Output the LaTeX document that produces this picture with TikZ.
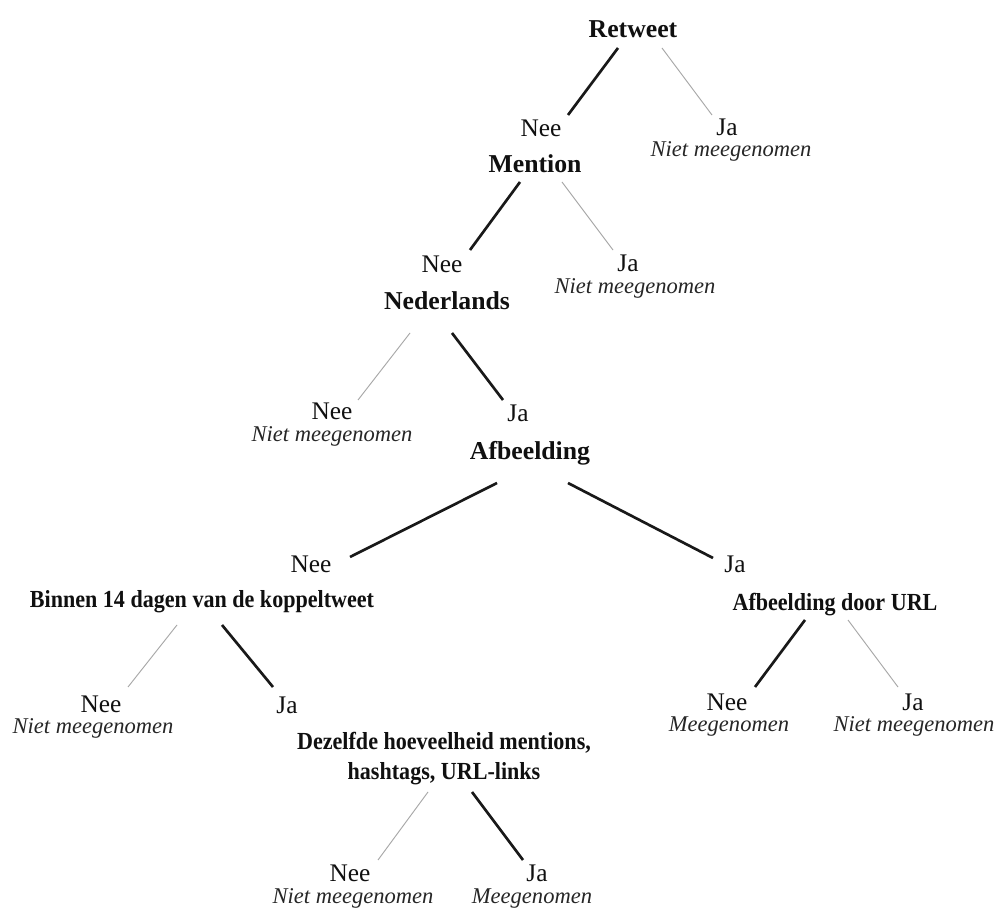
\documentclass[tikz,border=0pt]{standalone}
\usepackage{fontspec}
\setmainfont{Liberation Serif}
\newfontfamily\condfont[FakeStretch=0.9]{Liberation Serif}
\usetikzlibrary{calc}
\definecolor{thingray}{HTML}{A8A8A8}
\definecolor{txt}{HTML}{101010}
\definecolor{itxt}{HTML}{262626}
\tikzset{
  lbl/.style={anchor=base, inner sep=0pt, text=txt, font=\fontsize{19pt}{23pt}\selectfont},
  qtop/.style={anchor=base, inner sep=0pt, text=txt, font=\fontsize{19.3pt}{23pt}\selectfont\bfseries},
  qlow/.style={anchor=base, inner sep=0pt, text=txt, font=\fontsize{18.4pt}{22.5pt}\condfont\bfseries},
  note/.style={anchor=base, inner sep=0pt, text=itxt, font=\fontsize{16.9pt}{20pt}\selectfont\itshape},
  boldline/.style={line width=2pt, color=black!90},
  thinline/.style={line width=0.7pt, color=thingray}
}
\begin{document}
\begin{tikzpicture}[x=0.75pt,y=-0.75pt]
\useasboundingbox (0,0) rectangle (1001,909);
\fill[white] (0,0) rectangle (1001,909);

% level 0
\node[qtop] (r) at (633,38) {Retweet};
\node[lbl] (n1) at (541,137) {Nee};
\node[lbl] (j1) at (727,136) {Ja};
\node[note] (j1t) at (731,157) {Niet meegenomen};
\node[qtop] (m) at (535,173) {Mention};
% level 2
\node[lbl] (n2) at (442,273) {Nee};
\node[lbl] (j2) at (628,272) {Ja};
\node[note] (j2t) at (635,294) {Niet meegenomen};
\node[qtop] (nl) at (447,310) {Nederlands};
% level 3
\node[lbl] (n3) at (332,420) {Nee};
\node[note] (n3t) at (332,442) {Niet meegenomen};
\node[lbl] (j3) at (518,422) {Ja};
\node[qtop] (a) at (530,460) {Afbeelding};
% level 4
\node[lbl] (n4) at (311,572) {Nee};
\node[lbl] (j4) at (735,572) {Ja};
\node[qlow] (b) at (202,608) {Binnen 14 dagen van de koppeltweet};
\node[qlow] (u) at (835,610) {Afbeelding door URL};
% level 5
\node[lbl] (n5) at (101,712) {Nee};
\node[note] (n5t) at (93,733) {Niet meegenomen};
\node[lbl] (j5) at (287,713) {Ja};
\node[lbl] (n6) at (727,710) {Nee};
\node[note] (n6t) at (729,731) {Meegenomen};
\node[lbl] (j6) at (913,710) {Ja};
\node[note] (j6t) at (914,731) {Niet meegenomen};
\node[qlow, anchor=north, align=center, font=\fontsize{18.4pt}{22.5pt}\condfont\bfseries] (d) at (444,731.5) {Dezelfde hoeveelheid mentions,\\hashtags, URL-links};
% level 6
\node[lbl] (n7) at (350,881) {Nee};
\node[note] (n7t) at (353,903) {Niet meegenomen};
\node[lbl] (j7) at (537,881) {Ja};
\node[note] (j7t) at (532,903) {Meegenomen};

% connectors
\draw[boldline] ($(r.base)+(-15,10)$) -- ($(n1.base)+(27,-22)$);
\draw[thinline] ($(r.base)+(29,10)$) -- ($(j1.base)+(-15,-21)$);
\draw[boldline] ($(m.base)+(-15,9)$) -- ($(n2.base)+(28,-23)$);
\draw[thinline] ($(m.base)+(27,9)$) -- ($(j2.base)+(-15,-22)$);
\draw[thinline] ($(nl.base)+(-37,23)$) -- ($(n3.base)+(26,-20)$);
\draw[boldline] ($(nl.base)+(5,23)$) -- ($(j3.base)+(-15,-22)$);
\draw[boldline] ($(a.base)+(-33,23)$) -- ($(n4.base)+(39,-15)$);
\draw[boldline] ($(a.base)+(38,23)$) -- ($(j4.base)+(-22,-14)$);
\draw[thinline] ($(b.base)+(-25,17)$) -- ($(n5.base)+(27,-25)$);
\draw[boldline] ($(b.base)+(20,17)$) -- ($(j5.base)+(-14,-26)$);
\draw[boldline] ($(u.base)+(-30,10)$) -- ($(n6.base)+(28,-23)$);
\draw[thinline] ($(u.base)+(13,10)$) -- ($(j6.base)+(-15,-23)$);
\draw[thinline] ($(d.north)+(-16,60.5)$) -- ($(n7.base)+(28,-21)$);
\draw[boldline] ($(d.north)+(28,60.5)$) -- ($(j7.base)+(-14,-21)$);
\end{tikzpicture}
\end{document}
